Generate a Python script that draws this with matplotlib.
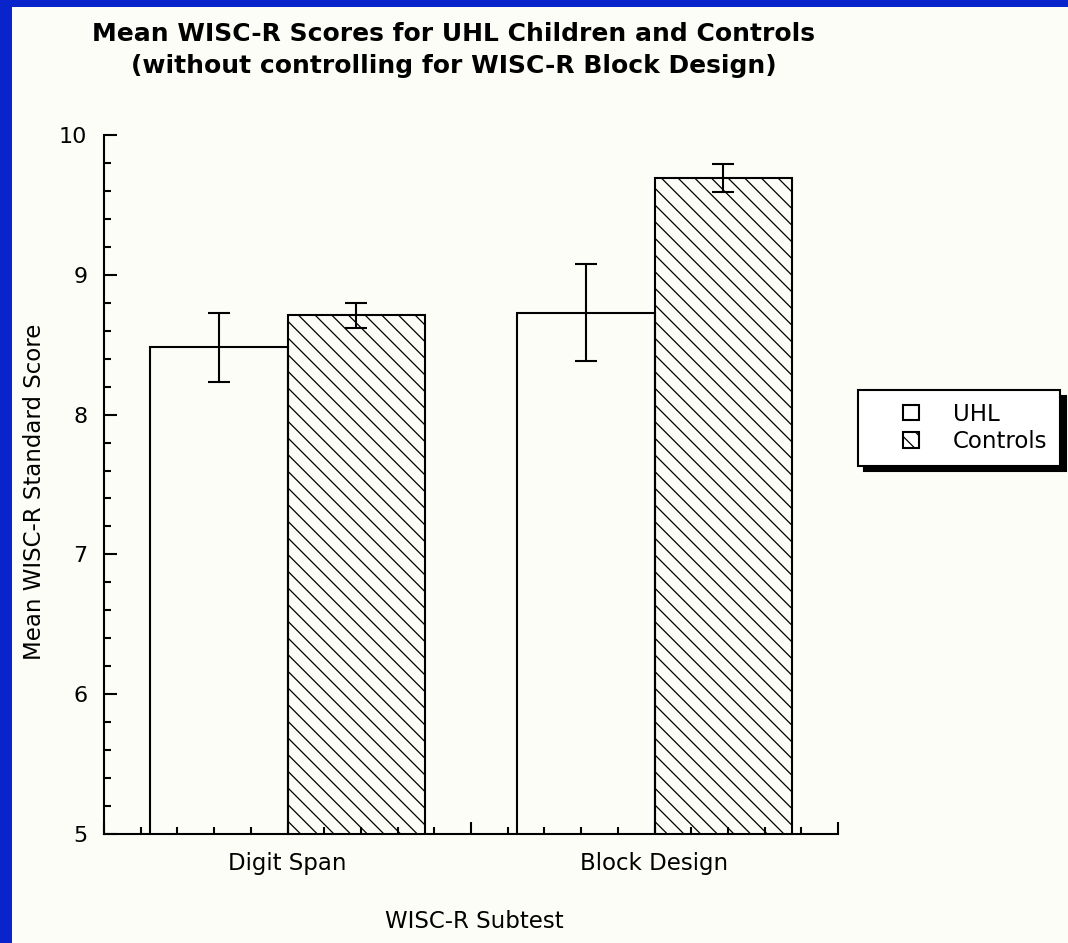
import matplotlib.pyplot as plt
import matplotlib.patches as mpatches
from matplotlib.legend_handler import HandlerPatch
from matplotlib.ticker import MultipleLocator
import numpy as np

# data
subtests = ["Digit Span", "Block Design"]
groups = ["UHL", "Controls"]
uhl_mean = [8.48, 8.73]
uhl_err = [0.245, 0.35]
ctrl_mean = [8.71, 9.69]
ctrl_err = [0.09, 0.10]

plt.rcParams['font.family'] = 'DejaVu Sans'
plt.rcParams['hatch.linewidth'] = 0.9

fig = plt.figure(figsize=(10.68, 9.43), dpi=100, facecolor='#0a24cc')
# cream page inside the blue frame
fig.patches.append(mpatches.Rectangle((12 / 1068, 0), 1, 1 - 7 / 943, transform=fig.transFigure,
                                      facecolor='#fdfdf8', edgecolor='none', zorder=-5))

ax = fig.add_axes([104 / 1068, 1 - 834 / 943, 734 / 1068, 699 / 943])
ax.set_facecolor('none')

centers = np.arange(len(subtests)) + 0.5
w = 0.375
ekw = dict(ecolor='black', elinewidth=1.5, capsize=8, capthick=1.5)
b1 = ax.bar(centers - w / 2, uhl_mean, w, yerr=uhl_err, color='none', edgecolor='black',
            linewidth=1.5, label=groups[0], error_kw=ekw)
b2 = ax.bar(centers + w / 2, ctrl_mean, w, yerr=ctrl_err, color='none', edgecolor='black',
            linewidth=1.5, hatch='\\\\', label=groups[1], error_kw=ekw)

ax.set_xlim(0, 2)
ax.set_ylim(5, 10)
for s in ['top', 'right']:
    ax.spines[s].set_visible(False)
for s in ['left', 'bottom']:
    ax.spines[s].set_linewidth(1.5)

ax.set_xticks([0, 1, 2], labels=['', '', ''])
ax.xaxis.set_minor_locator(MultipleLocator(0.1))
ax.yaxis.set_major_locator(MultipleLocator(1))
ax.yaxis.set_minor_locator(MultipleLocator(0.2))
ax.tick_params(which='major', direction='in', length=9, width=1.5, labelsize=16, pad=12)
ax.tick_params(which='minor', direction='in', length=5, width=1.5)

for c, name in zip(centers, subtests):
    ax.text(c, -0.042, name, transform=ax.get_xaxis_transform(), ha='center', va='center', fontsize=16.5)

fig.text(474 / 1068, 1 - 921 / 943, "WISC-R Subtest", ha='center', va='center', fontsize=16.5)
fig.text(35 / 1068, 1 - 492 / 943, "Mean WISC-R Standard Score", ha='center', va='center',
         rotation=90, fontsize=16.5)
fig.text(454 / 1068, 1 - 50 / 943,
         "Mean WISC-R Scores for UHL Children and Controls\n(without controlling for WISC-R Block Design)",
         ha='center', va='center', fontsize=18, fontweight='bold', linespacing=1.45)


def small_square(legend, orig_handle, xdescent, ydescent, width, height, fontsize):
    s = height
    return mpatches.Rectangle((width - s - xdescent, -ydescent), s, s)


leg = fig.legend(handles=[b1.patches[0], b2.patches[0]], labels=groups, loc='upper left',
                 bbox_to_anchor=(858 / 1068, 1 - 390 / 943), fontsize=16.5,
                 frameon=True, fancybox=False, edgecolor='black', facecolor='white',
                 shadow={'color': 'black', 'alpha': 1, 'ox': 4, 'oy': -4},
                 handlelength=2.1, handleheight=0.65, handletextpad=1.5, borderpad=0.55,
                 labelspacing=0.2, borderaxespad=0,
                 handler_map={mpatches.Rectangle: HandlerPatch(patch_func=small_square)})
leg.get_frame().set_linewidth(1.5)

fig.savefig('out.png', dpi=100, facecolor=fig.get_facecolor())
